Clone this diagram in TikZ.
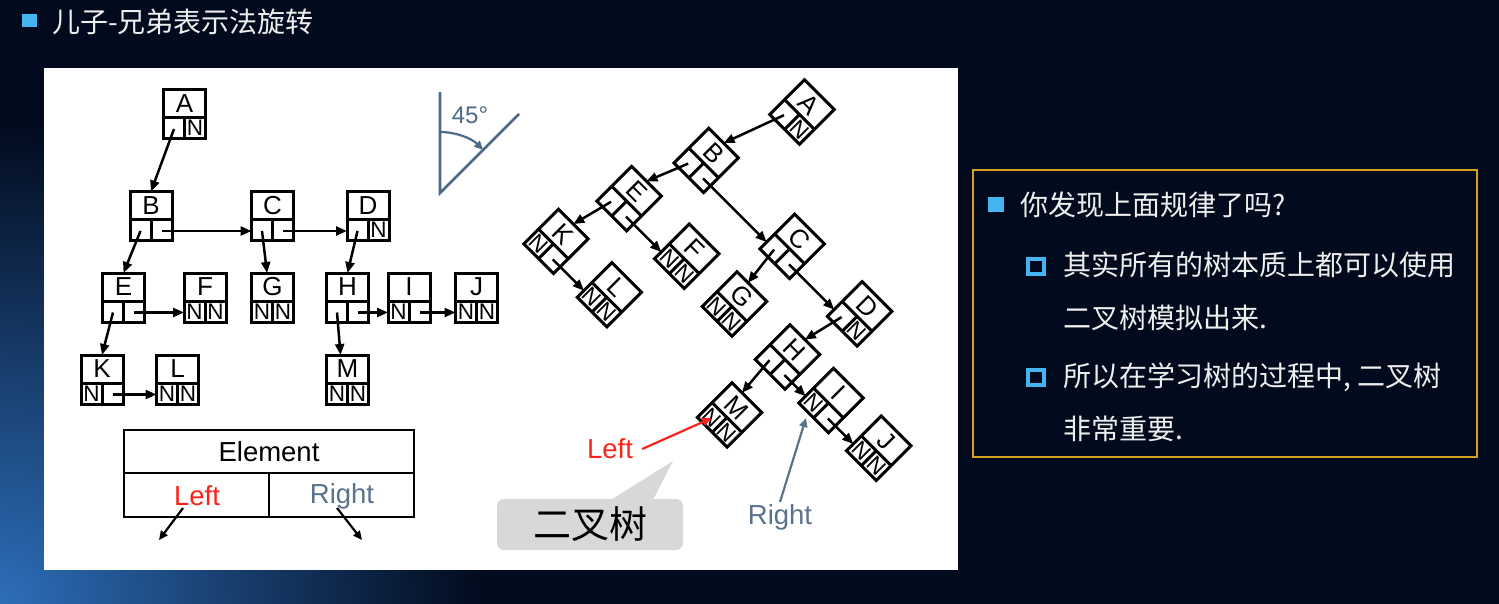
\documentclass[tikz,border=0pt]{standalone}
\usepackage{fontspec}
\setmainfont{Liberation Sans}
\newfontfamily\cjk{Noto Sans CJK SC}
\usetikzlibrary{arrows.meta,calc}
\definecolor{navy}{RGB}{2,11,30}
\definecolor{streak}{RGB}{45,110,185}
\definecolor{slate}{RGB}{78,105,135}
\definecolor{rtxt}{RGB}{90,115,140}
\definecolor{redl}{RGB}{250,35,25}
\definecolor{bul}{RGB}{70,180,240}
\definecolor{gold}{RGB}{215,160,35}
\definecolor{ltxt}{RGB}{238,238,238}
\definecolor{callg}{RGB}{216,216,216}
\tikzset{
  boxline/.style={line width=3pt, line join=miter},
  lett/.style={inner sep=0pt, font=\fontsize{26}{26}\selectfont, transform shape},
  nlab/.style={inner sep=0pt, font=\fontsize{22.5}{22.5}\selectfont, transform shape},
  arr/.style={line width=2.5pt, -{Triangle[length=11pt,width=9pt]}},
  thinarr/.style={line width=2.2pt, -{Triangle[length=9pt,width=8pt]}},
  lbl/.style={inner sep=2pt, font=\fontsize{27.5}{27.5}\selectfont},
  cjktxt/.style={inner sep=0pt, anchor=west, text=ltxt, font=\cjk\fontsize{28}{28}\selectfont}
}
% one list box: name, x, y, letter, left cell, right cell
\newcommand\tboxm[6]{%
  \begin{scope}[shift={(#2,#3)}]
    \draw[boxline] (-21,-24.5) -- (21,-24.5) -- (21,24.5) -- (-21,24.5) -- cycle;
    \draw[boxline] (-21,3.5) -- (21,3.5) (0,3.5) -- (0,24.5);
    \node[lett] (#1-t) at (0,-10.5) {#4};
    \node[nlab] (#1-ln) at (-10.5,14) {#5};
    \node[nlab] (#1-rn) at (10.5,14) {#6};
    \coordinate (#1-l) at (-10.5,15);
    \coordinate (#1-r) at (10.5,15);
    \coordinate (#1-top) at (0,-24.5);
    \coordinate (#1-tl) at (-21,-24.5);
    \coordinate (#1-west) at (-21,15);
  \end{scope}}
\newcommand\treedraw[1]{%
  \tboxm{#1A}{184.5}{114}{A}{}{N}
  \tboxm{#1B}{151}{216}{B}{}{}
  \tboxm{#1C}{272.5}{216}{C}{}{}
  \tboxm{#1D}{368}{216}{D}{}{N}
  \tboxm{#1E}{123.5}{297.5}{E}{}{}
  \tboxm{#1F}{205}{297.5}{F}{N}{N}
  \tboxm{#1G}{272.5}{297.5}{G}{N}{N}
  \tboxm{#1H}{347.5}{297.5}{H}{}{}
  \tboxm{#1I}{409}{297.5}{I}{N}{}
  \tboxm{#1J}{476.5}{297.5}{J}{N}{N}
  \tboxm{#1K}{102}{379.5}{K}{N}{}
  \tboxm{#1L}{177.5}{379.5}{L}{N}{N}
  \tboxm{#1M}{347.5}{379.5}{M}{N}{N}
  \draw[arr] (#1A-l) -- (#1B-top);
  \draw[arr] (#1B-l) -- (#1E-top);
  \draw[arr] (#1B-r) -- (#1C-west);
  \draw[arr] (#1C-l) -- ($(#1G-top)!0.26!(#1G-tl)$);
  \draw[arr] (#1C-r) -- (#1D-west);
  \draw[arr] (#1D-l) -- (#1H-top);
  \draw[arr] (#1E-l) -- (#1K-top);
  \draw[arr] (#1E-r) -- (#1F-west);
  \draw[arr] (#1H-l) -- ($(#1M-top)!0.33!(#1M-tl)$);
  \draw[arr] (#1H-r) -- (#1I-west);
  \draw[arr] (#1I-r) -- (#1J-west);
  \draw[arr] (#1K-r) -- (#1L-west);
}
\begin{document}
\begin{tikzpicture}[x=1pt,y=-1pt]
\useasboundingbox (0,0) rectangle (1499,604);
% background
\fill[navy] (0,0) rectangle (1499,604);
\begin{scope}
  \clip (0,0) rectangle (1499,604);
  \shade[inner color=streak, outer color=navy] (0,604) circle (480);
\end{scope}
% title
\fill[bul] (22,14) rectangle (37,27);
\node[cjktxt] (title) at (52,21.5) {儿子-兄弟表示法旋转};
% white panel
\fill[white] (44,68) rectangle (958,570);
% left tree
\treedraw{o}
% 45 degree sign
\coordinate (v) at (440,193);
\coordinate (vt) at (440,92);
\coordinate (vd) at (519,114);
\draw[slate, line width=2.6pt] (vt) -- (v) -- (vd);
\draw[slate, line width=2.2pt, -{Triangle[length=9pt,width=8pt]}] (440,132) arc[start angle=-90, end angle=-45, radius=61];
\node[text=slate, font=\fontsize{24}{24}\selectfont, inner sep=0pt] (deg) at (470,115) {45°};
% rotated tree
\begin{scope}[shift={(802,112)}, rotate=-45, shift={(-184.5,-114)}]
  \treedraw{r}
\end{scope}
% legend
\draw[line width=2.6pt] (124,430) rectangle (414,517);
\draw[line width=2.6pt] (124,473) -- (414,473) (269,473) -- (269,517);
\node[lbl] (elem) at (269,452) {Element};
\node[lbl, text=redl] (lleft) at (197,496) {Left};
\node[lbl, text=rtxt] (lright) at (342,496) {Right};
\coordinate (lls) at (183,508);
\coordinate (lle) at (159,540);
\coordinate (lrs) at (337,508);
\coordinate (lre) at (362,540);
\draw[thinarr] (lls) -- (lle);
\draw[thinarr] (lrs) -- (lre);
% annotations
\node[lbl, text=redl] (tleft) at (610,449) {Left};
\draw[redl, thinarr] ($(tleft.east)+(7,0)$) -- (rM-l);
\node[lbl, text=rtxt] (tright) at (780,517) {Right};
\coordinate (itip) at (806,418);
\draw[rtxt, thinarr] (tright.north) -- (itip);
% callout
\node[fill=callg, rounded corners=7pt, minimum width=186pt, minimum height=51pt, inner sep=0pt, font=\cjk\fontsize{38}{38}\selectfont] (bt) at (590,524.5) {二叉树};
\fill[callg] ([xshift=18pt,yshift=-3pt]bt.north) -- (673,461) -- ([xshift=62pt,yshift=-3pt]bt.north) -- cycle;
% text box
\draw[gold, line width=1.5pt, fill=navy] (973,170) rectangle (1477,457);
\fill[bul] (988,197) rectangle (1004,212);
\node[cjktxt] (q) at (1020,205) {你发现上面规律了吗?};
\draw[bul, line width=4pt] (1028,259) rectangle (1044,274);
\node[cjktxt] (s1a) at (1063,265) {其实所有的树本质上都可以使用};
\node[cjktxt] (s1b) at (1063,318) {二叉树模拟出来.};
\draw[bul, line width=4pt] (1028,370) rectangle (1044,385);
\node[cjktxt] (s2a) at (1063,377) {所以在学习树的过程中, 二叉树};
\node[cjktxt] (s2b) at (1063,429) {非常重要.};
\end{tikzpicture}
\end{document}
